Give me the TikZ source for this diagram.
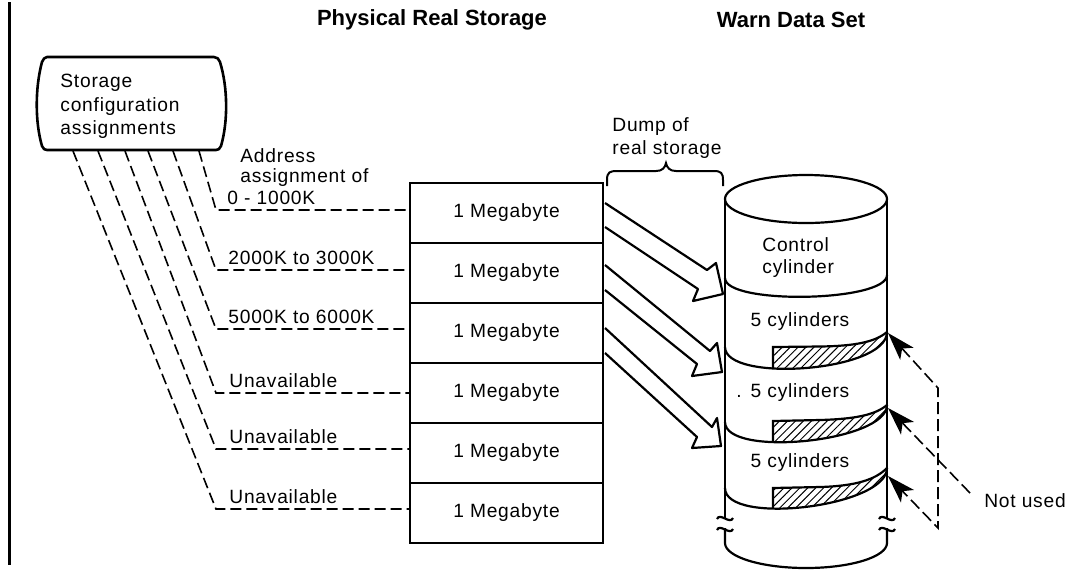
\documentclass[tikz,border=0pt]{standalone}
\usepackage{fontspec}
\setmainfont{Liberation Sans}[LetterSpace=4]
\newfontfamily\titlefont{Liberation Sans}
\usetikzlibrary{arrows.meta,patterns.meta}
\begin{document}
\begin{tikzpicture}[x=0.5pt,y=-0.5pt,
  txt/.style={font=\fontsize{9.6}{11.5}\selectfont, inner sep=0pt},
  ttl/.style={font=\titlefont\bfseries\fontsize{11}{13}\selectfont, inner sep=0pt},
  rowbox/.style={draw, line width=1pt, minimum width=96.5pt, minimum height=30pt, inner sep=0pt, font=\fontsize{9.6}{11.5}\selectfont},
  dsh/.style={line width=0.8pt, dash pattern=on 5.5pt off 2.5pt},
  outl/.style={line width=1.1pt, line join=round},
  cyl/.style={line width=1.1pt},
  hatch/.style={pattern={Lines[angle=45,distance=2.8pt,line width=0.5pt]}},
  nuhead/.tip={Stealth[length=14pt,width=9pt,inset=3.5pt]},
]
\useasboundingbox (0,0) rectangle (1076,575);

% left rule
\draw[line width=1.5pt] (9,2) -- (9,565);

% titles
\node[ttl] (t1) at (432,20) {Physical Real Storage};
\node[ttl] (t2) at (791,20) {Warn Data Set};

% storage configuration box
\draw[outl, line width=1.3pt] (47,57) -- (214,57) .. controls (217,57) and (219,59) .. (220,62)
  .. controls (228,88) and (228,122) .. (221,146) .. controls (220,149) and (218,150) .. (216,150)
  -- (47,150) .. controls (45,150) and (43,149) .. (42,146)
  .. controls (35,122) and (35,88) .. (42,62) .. controls (43,59) and (45,57) .. (47,57) -- cycle;
\node[txt, anchor=west, align=left, font=\fontsize{9.6}{11.75}\selectfont] (cfg) at (60,106.5) {Storage\\configuration\\assignments};

% physical storage rows
\node[rowbox] (m1) at (506.5,213) {1 Megabyte};
\node[rowbox] (m2) at (506.5,273) {1 Megabyte};
\node[rowbox] (m3) at (506.5,333) {1 Megabyte};
\node[rowbox] (m4) at (506.5,393) {1 Megabyte};
\node[rowbox] (m5) at (506.5,453) {1 Megabyte};
\node[rowbox] (m6) at (506.5,513) {1 Megabyte};

% dashed assignment lines
\coordinate (b1) at (199,151);
\coordinate (b2) at (173,151);
\coordinate (b3) at (148,151);
\coordinate (b4) at (125,151);
\coordinate (b5) at (98,151);
\coordinate (b6) at (73,151);
\coordinate (c1) at (216,210);
\coordinate (c2) at (216,270);
\coordinate (c3) at (216,329);
\coordinate (c4) at (216,393);
\coordinate (c5) at (216,449);
\coordinate (c6) at (216,509);
\draw[dsh] (b1) -- (c1) -- (c1 -| m1.west);
\draw[dsh] (b2) -- (c2) -- (c2 -| m2.west);
\draw[dsh] (b3) -- (c3) -- (c3 -| m3.west);
\draw[dsh] (b4) -- (c4) -- (c4 -| m4.west);
\draw[dsh] (b5) -- (c5) -- (c5 -| m5.west);
\draw[dsh] (b6) -- (c6) -- (c6 -| m6.west);

\node[txt, anchor=west, align=left, font=\fontsize{9.6}{10}\selectfont] (addr) at (240,168) {Address\\assignment of};
\node[txt, anchor=base west] (l1) at (227,204) {0 - 1000K};
\node[txt, anchor=base west] (l2) at (228,264) {2000K to 3000K};
\node[txt, anchor=base west] (l3) at (228,323) {5000K to 6000K};
\node[txt, anchor=base west] (l4) at (229,387) {Unavailable};
\node[txt, anchor=base west] (l5) at (229,443) {Unavailable};
\node[txt, anchor=base west] (l6) at (229,503) {Unavailable};

% brace and dump label
\draw[line width=1pt] (607,186) -- (607,180) .. controls (607,172) and (610,171) .. (617,171) -- (656,171)
  .. controls (662,171) and (665,168) .. (666,163) .. controls (667,168) and (670,171) .. (676,171)
  -- (714,171) .. controls (721,171) and (723,173) .. (723,180) -- (723,186);
\node[txt, anchor=west, align=left, font=\fontsize{9.6}{11.5}\selectfont] (dump) at (612,138.5) {Dump of\\real storage};

% hollow arrows
\draw[outl] (605,203) -- (707,270) -- (716,263) -- (723,294) -- (693,301) -- (698,289) -- (605,227);
\draw[outl] (605,265) -- (710,351) -- (717,343) -- (722,372) -- (692,376) -- (697,364) -- (605,290);
\draw[outl] (605,328) -- (712,427) -- (717,418) -- (721,446) -- (692,448) -- (697,437) -- (605,353);

% hatched unused areas
\begin{scope}
  \clip (773,0) rectangle (900,575);
  \path[hatch] (725,347) .. controls (725,383) and (887,372) .. (887,332)
     .. controls (875,342) and (855,346) .. (820,346.5) -- cycle;
  \path[hatch] (725,422) .. controls (725,458) and (887,442) .. (887,405)
     .. controls (875,415) and (855,419) .. (820,420) -- (725,421) -- cycle;
  \path[hatch] (725,488) .. controls (725,526) and (887,507) .. (887,468)
     .. controls (875,480) and (855,486) .. (820,487) -- cycle;
\end{scope}
\draw[cyl] (773,368) -- (773,347) -- (820,346.5) .. controls (855,346) and (875,342) .. (887,332);
\draw[cyl] (773,442) -- (773,421) -- (820,420) .. controls (855,419) and (875,415) .. (887,405);
\draw[cyl] (773,508.5) -- (773,488) -- (820,487) .. controls (855,486) and (875,480) .. (887,468);

% cylinder
\draw[cyl] (806,199) ellipse [x radius=40.5pt, y radius=12pt];
\draw[cyl] (725,199) -- (725,518);
\draw[cyl] (887,199) -- (887,518);
\draw[cyl] (725,528) -- (725,543) arc[start angle=180, end angle=360, x radius=40.5pt, y radius=12.5pt] -- (887,528);
\draw[cyl] (725,278) .. controls (725,305) and (887,302) .. (887,275);
\draw[cyl] (725,347) .. controls (725,383) and (887,372) .. (887,332);
\draw[cyl] (725,422) .. controls (725,458) and (887,442) .. (887,405);
\draw[cyl] (725,488) .. controls (725,526) and (887,507) .. (887,468);
% break marks
\draw[cyl] (717,519) .. controls (720,512) and (730,525) .. (733,518);
\draw[cyl] (717,530) .. controls (720,523) and (730,536) .. (733,529);
\draw[cyl] (879,519) .. controls (882,512) and (892,525) .. (895,518);
\draw[cyl] (879,530) .. controls (882,523) and (892,536) .. (895,529);

\node[txt, anchor=west, align=left, font=\fontsize{9.6}{10.75}\selectfont] (ctl) at (762,257.5) {Control\\cylinder};
\node[txt] (cy1) at (800,322) {5 cylinders};
\node[txt] (cy2) at (800,393) {5 cylinders};
\node[txt] (dot) at (739,396) {.};
\node[txt] (cy3) at (800,463) {5 cylinders};

% not used
\node[txt] (nu) at (1025,501) {Not used};
\coordinate (n1) at (938,388);
\coordinate (n2) at (938,528);
\coordinate (nus) at (970,493);
\coordinate (p2) at (888,333);
\coordinate (p3) at (888,408);
\coordinate (p4) at (888,476);
\draw[dsh, dash pattern=on 6pt off 2.5pt, nuhead-nuhead] (p2) -- (n1) -- (n2) -- (p4);
\draw[dsh, dash pattern=on 6pt off 2.5pt, -nuhead] (nus) -- (p3);
\end{tikzpicture}
\end{document}
